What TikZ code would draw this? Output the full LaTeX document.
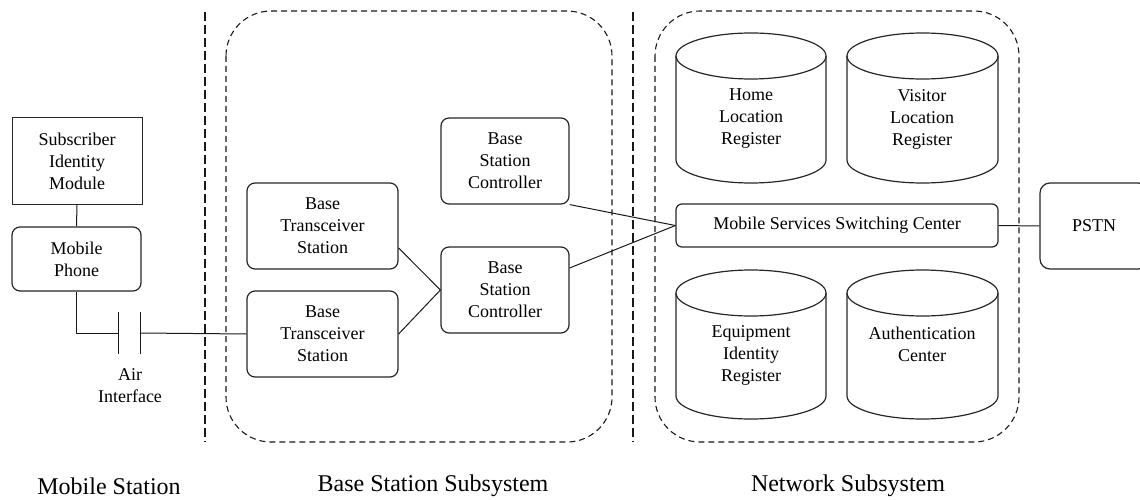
\documentclass[tikz,border=0pt]{standalone}
\usepackage{fontspec}
\setmainfont{Liberation Serif}
\begin{document}
\begin{tikzpicture}[x=1pt,y=-1pt,
  boxline/.style={draw=black!85,line width=1.2pt},
  stdbox/.style={boxline,rounded corners=8pt,align=center,inner sep=0pt,font=\fontsize{18}{22}\selectfont},
  simbox/.style={draw=black!85,line width=1pt,align=center,inner sep=0pt,font=\fontsize{18}{22}\selectfont},
  txt/.style={align=center,inner sep=0pt,font=\fontsize{18}{22}\selectfont},
  conn/.style={draw=black!90,line width=1pt},
  group/.style={draw=black!90,line width=1.1pt,dash pattern=on 6pt off 4pt,rounded corners=45pt},
  sep/.style={draw=black!90,line width=1.1pt,dash pattern=on 9pt off 4pt},
  lbl/.style={inner sep=0pt,font=\fontsize{24}{28}\selectfont},
  cylline/.style={draw=black!85,line width=1.2pt}]
\useasboundingbox (0,0) rectangle (1140,500);
\newcommand{\mycyl}[4]{%
  \pgfmathsetmacro\cx{(#1+#2)/2}\pgfmathsetmacro\rx{(#2-#1)/2}%
  \draw[cylline] (\cx,#3+23) ellipse [x radius=\rx, y radius=23];
  \draw[cylline] (#1,#3+23) -- (#1,#4-23) arc[start angle=180,end angle=0,x radius=\rx,y radius=23] -- (#2,#3+23);
}
% separators
\draw[sep] (205,12) -- (205,442);
\draw[sep] (633,12) -- (633,442);
% group boxes
\draw[group] (226,11) rectangle (612,442);
\draw[group] (655,11) rectangle (1019,442);
% mobile station
\node[simbox,minimum width=130pt,minimum height=86pt] (sim) at (77,161) {Subscriber\\Identity\\Module};
\node[stdbox,minimum width=129pt,minimum height=64pt] (phone) at (76.5,259) {Mobile\\Phone};
% BSS
\node[stdbox,minimum width=151pt,minimum height=86pt] (bts1) at (322.5,226) {Base\\Transceiver\\Station};
\node[stdbox,minimum width=151pt,minimum height=86pt] (bts2) at (322.5,334) {Base\\Transceiver\\Station};
\node[stdbox,minimum width=128pt,minimum height=86pt] (bsc1) at (505,161) {Base\\Station\\Controller};
\node[stdbox,minimum width=128pt,minimum height=86pt] (bsc2) at (505,290) {Base\\Station\\Controller};
% NSS
\mycyl{676}{826}{33}{183}
\mycyl{847}{998}{33}{183}
\mycyl{676}{826}{270}{419}
\mycyl{847}{998}{270}{419}
\node[txt] (hlr) at (751,119) {Home\\Location\\Register};
\node[txt] (vlr) at (922,119) {Visitor\\Location\\Register};
\node[txt] (eir) at (751,355) {Equipment\\Identity\\Register};
\node[txt] (auc) at (922,344) {Authentication\\Center};
\node[stdbox,rounded corners=6pt,minimum width=322pt,minimum height=43pt] (msc) at (837,225.5) {Mobile Services Switching Center};
\node[stdbox,rounded corners=10pt,minimum width=108pt,minimum height=86pt] (pstn) at (1094,226) {PSTN};
% air interface
\coordinate (c1) at (118,333);
\coordinate (c2) at (140,333);
\draw[conn] (118,312) -- (118,354);
\draw[conn] (140,312) -- (140,354);
\node[txt] (air) at (130,386) {Air\\Interface};
% connectors
\draw[conn] (sim.south) -- (phone.north);
\draw[conn] (phone.south) |- (c1);
\draw[conn] (c2) -- (bts2.west);
\draw[conn] ([yshift=-22pt]bts1.east) -- (bsc2.west);
\draw[conn] (bts2.east) -- (bsc2.west);
\draw[conn] (bsc1.south east) -- (msc.west);
\draw[conn] ([yshift=22pt]bsc2.east) -- (msc.west);
\draw[conn] (msc.east) -- (pstn.west);
% bottom labels
\node[lbl] (ms) at (109,486) {Mobile Station};
\node[lbl] (bss) at (433,486) {Base Station Subsystem};
\node[lbl] (nss) at (848,486) {Network Subsystem};
\end{tikzpicture}
\end{document}
